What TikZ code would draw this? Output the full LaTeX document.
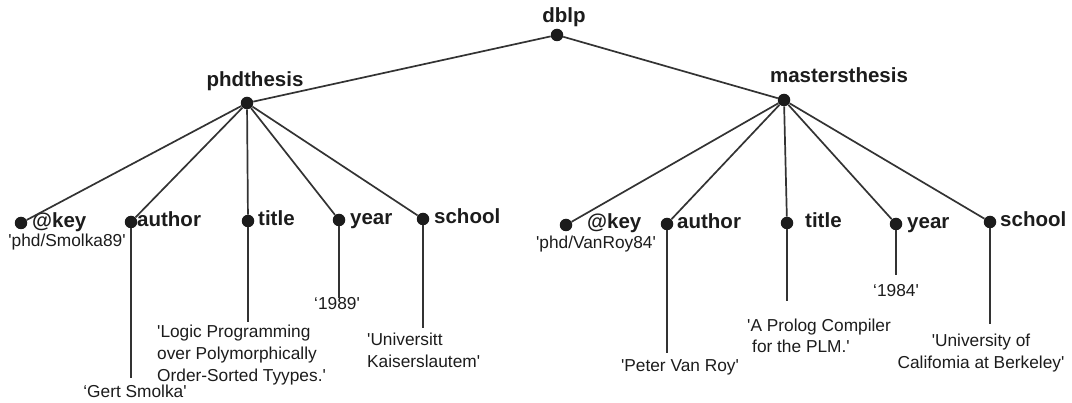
\documentclass[tikz,border=0pt]{standalone}
\usepackage{fontspec}
\newfontfamily\arialfont{Liberation Sans}
\definecolor{ink}{HTML}{1C1C1C}
\tikzset{
  dot/.style={circle, fill=ink, inner sep=0pt, minimum size=12.5pt},
  edge/.style={draw=ink!90, line width=1.7pt},
  tag/.style={font=\arialfont\bfseries\fontsize{20.5}{24}\selectfont, text=ink, inner sep=0pt, anchor=base west},
  head/.style={font=\arialfont\bfseries\fontsize{20.5}{24}\selectfont, text=ink, inner sep=0pt, anchor=base},
  val/.style={font=\arialfont\fontsize{17.3}{22}\selectfont, text=ink, inner sep=0pt, anchor=base},
  block/.style={font=\arialfont\fontsize{17.3}{22}\selectfont, text=ink, inner sep=0pt, anchor=north west, align=left},
}
\begin{document}
\begin{tikzpicture}[x=1pt,y=-1pt]
\useasboundingbox (0,0) rectangle (1072,403);

% root and the two record types
\node[dot] (root) at (557,35) {};
\node[head] (rootl) at (564,23) {dblp};
\node[dot] (phd) at (247,103) {};
\node[head] (phdl) at (255,87) {phdthesis};
\node[dot] (ms) at (784,100) {};
\node[head] (msl) at (839,83) {mastersthesis};

% phdthesis fields
\node[dot] (k1) at (21,223) {};
\node[dot] (a1) at (131,222) {};
\node[dot] (t1) at (248,221) {};
\node[dot] (y1) at (339,220) {};
\node[dot] (s1) at (423,219) {};
\node[tag] (k1l) at (32,228) {@key};
\node[tag] (a1l) at (137,227) {author};
\node[tag] (t1l) at (258,226) {title};
\node[tag] (y1l) at (350,225) {year};
\node[tag] (s1l) at (434,224) {school};

% mastersthesis fields
\node[dot] (k2) at (566,225) {};
\node[dot] (a2) at (667,224) {};
\node[dot] (t2) at (787,223) {};
\node[dot] (y2) at (896,224) {};
\node[dot] (s2) at (990,222) {};
\node[tag] (k2l) at (587,229) {@key};
\node[tag] (a2l) at (677,229) {author};
\node[tag] (t2l) at (805,228) {title};
\node[tag] (y2l) at (907,229) {year};
\node[tag] (s2l) at (1000,227) {school};

% field values
\node[val] (k1v) at (67,247) {'phd/Smolka89'};
\node[val] (a1v) at (135,398) {‘Gert Smolka'};
\node[block] (t1v) at (157,325) {'Logic Programming\\over Polymorphically\\Order-Sorted Tyypes.'};
\node[val] (y1v) at (337,310) {‘1989'};
\node[block] (s1v) at (367,333) {'Universitt\\Kaiserslautem'};

\node[val] (k2v) at (596,249) {'phd/VanRoy84'};
\node[val] (a2v) at (680,372) {'Peter Van Roy'};
\node[block, font=\arialfont\fontsize{17.3}{20.5}\selectfont] (t2v) at (747,319) {'A Prolog Compiler\\\hspace*{5pt}for the PLM.'};
\node[val] (y2v) at (896,297) {‘1984'};
\node[block, anchor=north, align=center] (s2v) at (981,334) {'University of\\Califomia at Berkeley'};

% free ends of the value stems
\coordinate (a1e) at (131,378);
\coordinate (t1e) at (248,322);
\coordinate (y1e) at (339,298);
\coordinate (s1e) at (423,328);
\coordinate (a2e) at (667,353);
\coordinate (t2e) at (787,301);
\coordinate (y2e) at (896,275);
\coordinate (s2e) at (990,324);

% tree edges
\draw[edge] (root) -- (phd);
\draw[edge] (root) -- (ms);
\foreach \c in {k1,a1,t1,y1,s1} \draw[edge] (phd) -- (\c);
\foreach \c in {k2,a2,t2,y2,s2} \draw[edge] (ms) -- (\c);

% value stems
\foreach \c in {a1,t1,y1,s1,a2,t2,y2,s2} \draw[edge] (\c) -- (\c e);
\end{tikzpicture}
\end{document}
